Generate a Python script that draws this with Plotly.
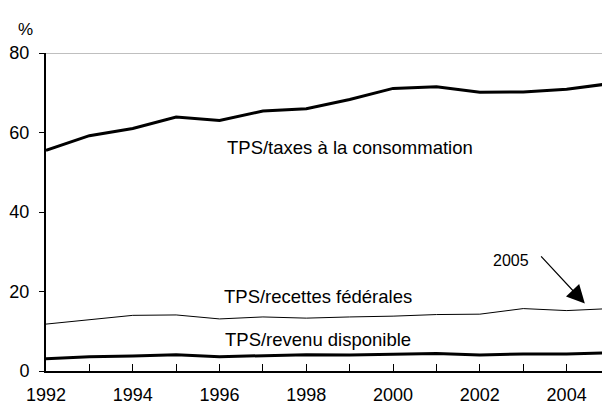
import plotly.graph_objects as go

years = list(range(1992, 2006))
tps_consommation = [55.5, 59.2, 61.0, 63.9, 63.0, 65.4, 66.0, 68.3, 71.1, 71.5, 70.1, 70.2, 70.9, 72.3]
tps_recettes = [11.8, 12.9, 14.0, 14.1, 13.1, 13.6, 13.3, 13.6, 13.8, 14.2, 14.3, 15.7, 15.2, 15.7]
tps_revenu = [3.1, 3.6, 3.8, 4.1, 3.6, 3.9, 4.1, 4.0, 4.2, 4.4, 4.0, 4.3, 4.3, 4.6]

tick_text = [str(y) if y % 2 == 0 else "" for y in years]
FONT = "Arial, Liberation Sans, sans-serif"

fig = go.Figure()
for vals, width in [(tps_consommation, 3), (tps_recettes, 1), (tps_revenu, 3)]:
    fig.add_trace(go.Scatter(x=years, y=vals, mode="lines",
                             line=dict(color="black", width=width),
                             showlegend=False, hoverinfo="skip"))

labels = [
    ("TPS/taxes à la consommation", 1999.0, 56.3),
    ("TPS/recettes fédérales", 1998.26, 18.8),
    ("TPS/revenu disponible", 1998.26, 8.0),
    ("2005", 2002.72, 27.9),
]
annotations = [dict(text=t, x=x, y=y, xref="x", yref="y", showarrow=False,
                    font=dict(size=18.5 if t != "2005" else 16, color="black", family=FONT))
               for t, x, y in labels]
# arrow pointing at the 2005 value
annotations.append(dict(text="", x=2004.42, y=17.0, ax=2003.38, ay=29.2,
                        xref="x", yref="y", axref="x", ayref="y",
                        showarrow=True, arrowhead=2, arrowsize=3, arrowwidth=1.2,
                        arrowcolor="black", standoff=0))
annotations.append(dict(text="%", xref="paper", yref="paper", x=0, y=1,
                        xshift=-30, yshift=35, showarrow=False,
                        font=dict(size=17, color="black", family=FONT)))

# page body has an 8px margin, so the figure is 8px smaller and shifted
fig.update_layout(
    width=602, height=400,
    margin=dict(l=38, r=0, t=45, b=37),
    paper_bgcolor="white", plot_bgcolor="white",
    font=dict(family=FONT, size=18, color="black"),
    xaxis=dict(range=[1992, 2005], tickvals=years, ticktext=tick_text,
               ticks="inside", ticklen=7, tickcolor="black", tickwidth=1,
               showline=True, linecolor="black", linewidth=2, automargin=False,
               ticklabelstandoff=6,
               showgrid=False, zeroline=False, tickfont=dict(size=18)),
    yaxis=dict(range=[0, 80], dtick=20, ticks="outside", ticklen=5,
               tickcolor="black", showline=True, linecolor="black", linewidth=2,
               automargin=False, ticklabelstandoff=6,
               showgrid=False, zeroline=False, tickfont=dict(size=18)),
    annotations=annotations,
    shapes=[dict(type="line", xref="paper", yref="y", x0=0, x1=1, y0=80, y1=80,
                 line=dict(color="#808080", width=1))],
)

fig.write_html("out.html")
